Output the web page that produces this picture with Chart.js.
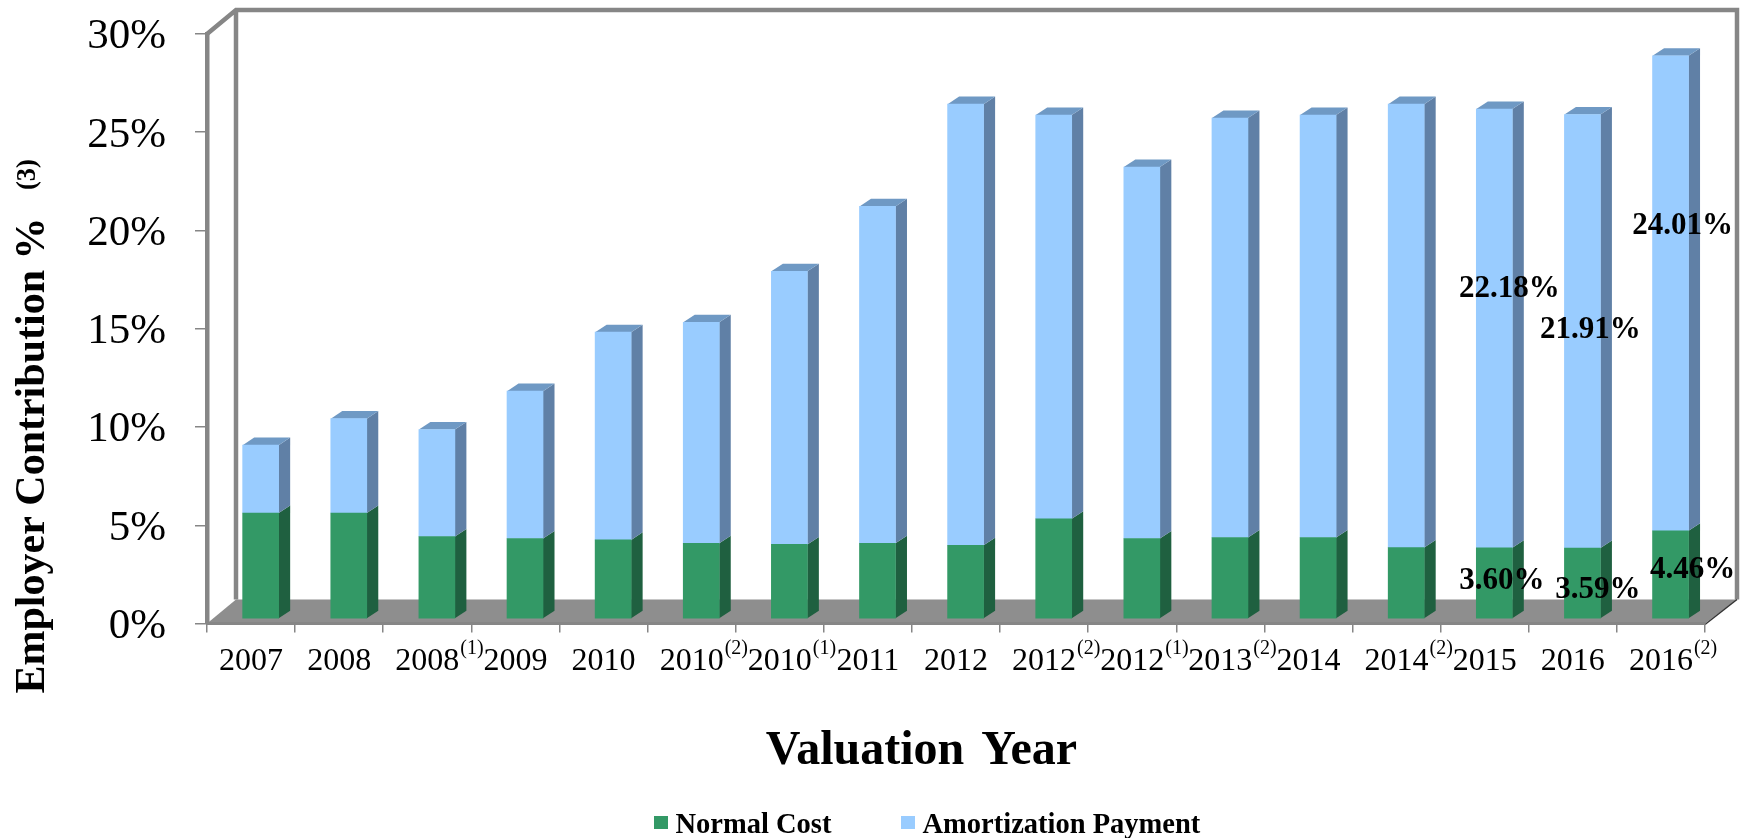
<!DOCTYPE html>
<html>
<head>
<meta charset="utf-8">
<style>
  html, body { margin: 0; padding: 0; background: #fff; }
  canvas { display: block; }
</style>
<script src="https://cdn.jsdelivr.net/npm/chart.js@4"></script>
</head>
<body>
<canvas id="chart" width="1748" height="838"></canvas>
<script>
const years = ['2007', '2008', '2008', '2009', '2010', '2010', '2010', '2011', '2012', '2012', '2012', '2013', '2014', '2014', '2015', '2016', '2016'];
const footnotes = ['', '', '(1)', '', '', '(2)', '(1)', '', '', '(2)', '(1)', '(2)', '', '(2)', '', '', '(2)'];
const normalCost = [5.36, 5.36, 4.17, 4.07, 4.0, 3.83, 3.77, 3.83, 3.73, 5.07, 4.07, 4.12, 4.12, 3.61, 3.60, 3.59, 4.46];
const amortization = [3.43, 4.77, 5.41, 7.45, 10.5, 11.17, 13.81, 17.03, 22.3, 20.41, 18.78, 21.21, 21.36, 22.42, 22.18, 21.91, 24.01];

const SERIF = '"Liberation Serif", "Times New Roman", serif';
const GRAY = '#868686';
const GREEN = '#339966';
const BLUE = '#99ccff';
const sideColors = ['#1f6040', '#6080a6'];
const topColor = '#6f99c4';

// 3D look of the original: bars sit a little inside the floor and
// rise slightly faster than the ticks on the front edge
const barShift = { x: 9.6, y: -4.5 };
const barStretch = 1.0066;
const barDepth = { x: 11.5, y: -7.5 };
const wallDepth = { x: 29, y: -24 };

// Only the last three years carry value labels, each hand placed in the original
const labelNudges = {
  14: [[7.5, 580.5, 0], [15, 288.5, 1]],
  15: [[15.5, 589.5, 0], [8, 329.5, 1]],
  16: [[22, 569.5, 0], [12, 225.5, 1]]
};

function poly(ctx, pts, fill) {
  ctx.beginPath();
  pts.forEach((p, i) => i ? ctx.lineTo(p[0], p[1]) : ctx.moveTo(p[0], p[1]));
  ctx.closePath();
  ctx.fillStyle = fill;
  ctx.fill();
}

// no extra room for tick labels, the plot box is placed by hand
function noScalePadding(scale) {
  scale.paddingTop = 0;
  scale.paddingBottom = 0;
  scale.paddingLeft = 0;
  scale.paddingRight = 0;
}

const walls = {
  id: 'walls',
  afterLayout(chart) {
    // the y labels sit a little below their tick marks in the original
    const y = chart.scales.y;
    const drawLabels = y.drawLabels;
    y.drawLabels = function (area) {
      chart.ctx.save();
      chart.ctx.translate(0, 3);
      drawLabels.call(this, area);
      chart.ctx.restore();
    };
  },
  beforeDraw(chart) {
    const { ctx, chartArea: a } = chart;
    const dx = wallDepth.x, dy = wallDepth.y;
    ctx.save();
    poly(ctx, [[a.left, a.bottom], [a.right, a.bottom], [a.right + dx + 3, a.bottom + dy], [a.left + dx, a.bottom + dy]], '#8e8e8e');
    ctx.strokeStyle = GRAY;
    ctx.lineWidth = 4.5;
    ctx.lineJoin = 'miter';
    ctx.beginPath();
    ctx.moveTo(a.left, a.top);
    ctx.lineTo(a.left + dx, a.top + dy);
    ctx.lineTo(a.right + dx + 3, a.top + dy);
    ctx.lineTo(a.right + dx + 3, a.bottom + dy);
    ctx.moveTo(a.left + dx, a.top + dy);
    ctx.lineTo(a.left + dx, a.bottom + dy);
    ctx.stroke();
    ctx.strokeStyle = '#333';
    ctx.lineWidth = 1.5;
    ctx.beginPath();
    ctx.moveTo(a.right, a.bottom + 1);
    ctx.lineTo(a.right + dx + 3, a.bottom + dy);
    ctx.stroke();
    ctx.restore();
  }
};

const bars3d = {
  id: 'bars3d',
  beforeDatasetsDraw(chart) {
    const { ctx, chartArea: a } = chart;
    ctx.save();
    ctx.translate(barShift.x, a.bottom + barShift.y);
    ctx.scale(1, barStretch);
    ctx.translate(0, -a.bottom);
    const dx = barDepth.x, dy = barDepth.y;
    chart.data.datasets.forEach((ds, d) => {
      chart.getDatasetMeta(d).data.forEach(bar => {
        const r = bar.x + bar.width / 2;
        const l = bar.x - bar.width / 2;
        poly(ctx, [[r, bar.base], [r + dx, bar.base + dy], [r + dx, bar.y + dy], [r, bar.y]], sideColors[d]);
        if (d === chart.data.datasets.length - 1) {
          poly(ctx, [[l, bar.y], [l + dx, bar.y + dy], [r + dx, bar.y + dy], [r, bar.y]], topColor);
        }
      });
    });
  },
  afterDatasetsDraw(chart) {
    chart.ctx.restore();
  }
};

const texts = {
  id: 'texts',
  afterDraw(chart) {
    const { ctx, scales } = chart;
    ctx.save();
    ctx.fillStyle = '#000';

    // y title, with its footnote mark
    ctx.save();
    ctx.translate(44, 455.5);
    ctx.rotate(-Math.PI / 2);
    ctx.textAlign = 'center';
    ctx.font = 'bold 42px ' + SERIF;
    ctx.fillText('Employer Contribution %', 0, 0);
    ctx.font = 'bold 26.5px ' + SERIF;
    ctx.fillText('(3)', 281, -9);
    ctx.restore();

    // x title
    ctx.textAlign = 'center';
    ctx.font = 'bold 48px ' + SERIF;
    ctx.wordSpacing = '5px';
    ctx.fillText('Valuation Year', 921.5, 764);
    ctx.wordSpacing = '0px';

    // footnote marks on the year labels
    ctx.textAlign = 'left';
    ctx.font = '20px ' + SERIF;
    footnotes.forEach((mark, i) => {
      if (mark) ctx.fillText(mark, scales.x.getPixelForTick(i) + 33, 654);
    });

    // value labels
    ctx.textAlign = 'center';
    ctx.textBaseline = 'middle';
    ctx.font = 'bold 31px ' + SERIF;
    Object.keys(labelNudges).forEach(i => {
      labelNudges[i].forEach(([nudge, y, d]) => {
        const bar = chart.getDatasetMeta(d).data[i];
        const value = chart.data.datasets[d].data[i];
        ctx.fillText(value.toFixed(2) + '%', bar.x + barShift.x + nudge, y);
      });
    });

    // legend
    ctx.textBaseline = 'alphabetic';
    ctx.textAlign = 'left';
    ctx.font = 'bold 28.5px ' + SERIF;
    [654, 901].forEach((x, d) => {
      const ds = chart.data.datasets[d];
      ctx.fillStyle = ds.backgroundColor;
      ctx.fillRect(x, 816, 14, 13);
      ctx.fillStyle = '#000';
      ctx.fillText(ds.label, x + 21.5, 833);
    });
    ctx.restore();
  }
};

new Chart(document.getElementById('chart').getContext('2d'), {
  type: 'bar',
  data: {
    labels: years,
    datasets: [
      { label: 'Normal Cost', data: normalCost, backgroundColor: GREEN, barThickness: 36 },
      { label: 'Amortization Payment', data: amortization, backgroundColor: BLUE, barThickness: 36 }
    ]
  },
  options: {
    responsive: false,
    animation: false,
    layout: { padding: { left: 20, right: 43, top: 34, bottom: 31 } },
    plugins: {
      legend: { display: false },
      title: { display: false },
      tooltip: { enabled: false }
    },
    scales: {
      x: {
        stacked: true,
        afterFit(scale) { scale.height = 183.5; noScalePadding(scale); },
        border: { color: GRAY, width: 3 },
        grid: { drawOnChartArea: false, tickColor: GRAY, tickLength: 9, lineWidth: 1.5 },
        ticks: { color: '#000', font: { family: SERIF, size: 32 }, padding: 10, autoSkip: false, maxRotation: 0 }
      },
      y: {
        stacked: true,
        min: 0,
        max: 30,
        afterFit(scale) { scale.width = 187; noScalePadding(scale); },
        border: { color: GRAY, width: 4.5 },
        grid: { drawOnChartArea: false, tickColor: GRAY, tickLength: 12, lineWidth: 1.5 },
        ticks: {
          stepSize: 5,
          color: '#000',
          font: { family: SERIF, size: 43 },
          padding: 29,
          callback: v => v + '%'
        }
      }
    }
  },
  plugins: [walls, bars3d, texts]
});
</script>
</body>
</html>
